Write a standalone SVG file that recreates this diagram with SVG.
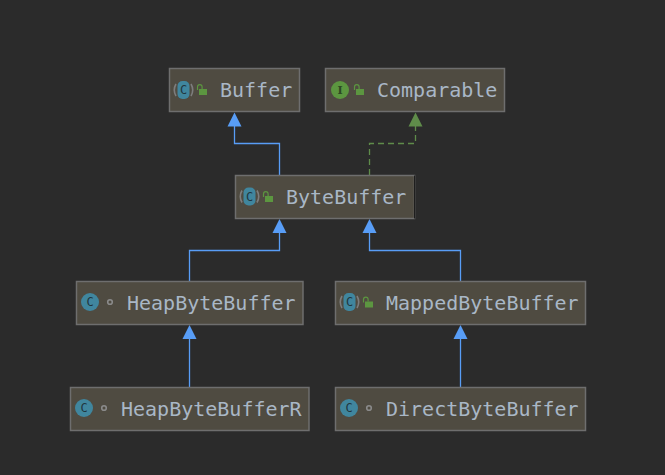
<svg xmlns="http://www.w3.org/2000/svg" width="665" height="475" viewBox="0 0 665 475">
<style>
.box{fill:#4f4b41;stroke:#6e6e6e;stroke-width:1.5}
.lbl{font-family:"DejaVu Sans Mono",monospace;font-size:20px;fill:#a9b7c6}
.ci{fill:#40869e}
.cl{font-family:"DejaVu Sans Mono",monospace;font-size:12px;fill:#21363f;text-anchor:middle}
.il{font-family:"DejaVu Serif",serif;font-size:11px;font-weight:bold;fill:#2d4a24;text-anchor:middle}
.arc{fill:none;stroke:#7d7d7d;stroke-width:1.6}
.dot{fill:none;stroke:#8a8a8a;stroke-width:1.6}
.lk{fill:#5c9640}
.ls{fill:none;stroke:#5c9640;stroke-width:1.2}
.e{fill:none;stroke:#589df6;stroke-width:1.3}
.d{fill:none;stroke:#5f8c4a;stroke-width:1.3;stroke-dasharray:6 4}
.ha{fill:#589df6}
.hg{fill:#5f8c4a}
</style>
<defs>
<g id="abs"><path class="arc" d="M-7.500 -6a12 12 0 0 0 0 12M7.500 -6a12 12 0 0 1 0 12"/><rect x="-6" y="-9" width="12" height="18" rx="5" class="ci"/><text y="4" class="cl">C</text></g>
<g id="cls"><circle r="9" class="ci"/><text y="4" class="cl">C</text></g>
<g id="lock"><rect x="0" y="0" width="8" height="6" class="lk"/><path d="M-1.500 1V-2a2.300 2.300 0 0 1 4.600 0V0" class="ls"/></g>
<circle id="pkg" r="2.300" class="dot"/>
</defs>
<rect width="665" height="475" fill="#2b2b2b"/>
<g id="connectors">
<path class="e" d="M279.500 175V143.500H234.500V124"/><path class="ha" d="M234.500 112.500l7 14h-14z"/>
<path class="d" d="M369.500 175V143.500H415.500V124"/><path class="hg" d="M415.500 112.500l7 14h-14z"/>
<path class="e" d="M189.500 281V250.500H279.500V231"/><path class="ha" d="M279.500 219l7 14h-14z"/>
<path class="e" d="M460.500 281V250.500H369.500V231"/><path class="ha" d="M369.500 219l7 14h-14z"/>
<path class="e" d="M189.500 387V337"/><path class="ha" d="M189.500 325l7 14h-14z"/>
<path class="e" d="M460.500 387V337"/><path class="ha" d="M460.500 325l7 14h-14z"/>
</g>
<g id="node-buffer"><rect class="box" x="169.500" y="68.500" width="130" height="43"/><use href="#abs" x="183.500" y="90"/><use href="#lock" x="199" y="89"/><text class="lbl" x="220" y="97">Buffer</text></g>
<g id="node-comparable"><rect class="box" x="325.500" y="68.500" width="179" height="43"/><circle cx="340" cy="90" r="9" fill="#5c9640"/><text class="il" x="340" y="94">I</text><use href="#lock" x="356" y="89"/><text class="lbl" x="377" y="97">Comparable</text></g>
<g id="node-bytebuffer"><rect class="box" x="235.500" y="175.500" width="179" height="43"/><path d="M414.500 175.500V218.500" stroke="#1e1e1e" stroke-width="1"/><use href="#abs" x="249.500" y="196.500"/><use href="#lock" x="265" y="196"/><text class="lbl" x="286" y="204">ByteBuffer</text></g>
<g id="node-heapbytebuffer"><rect class="box" x="76.500" y="281.500" width="226.500" height="43"/><use href="#cls" x="90" y="302"/><use href="#pkg" x="110" y="302"/><text class="lbl" x="127" y="310">HeapByteBuffer</text></g>
<g id="node-mappedbytebuffer"><rect class="box" x="335.500" y="281.500" width="250" height="43"/><use href="#abs" x="349.500" y="302"/><use href="#lock" x="365" y="301.500"/><text class="lbl" x="386" y="310">MappedByteBuffer</text></g>
<g id="node-heapbytebufferr"><rect class="box" x="70.500" y="387.500" width="238.500" height="43"/><use href="#cls" x="84" y="408"/><use href="#pkg" x="104" y="408"/><text class="lbl" x="121" y="416">HeapByteBufferR</text></g>
<g id="node-directbytebuffer"><rect class="box" x="335.500" y="387.500" width="250" height="43"/><use href="#cls" x="349" y="408"/><use href="#pkg" x="369" y="408"/><text class="lbl" x="386" y="416">DirectByteBuffer</text></g>
</svg>
